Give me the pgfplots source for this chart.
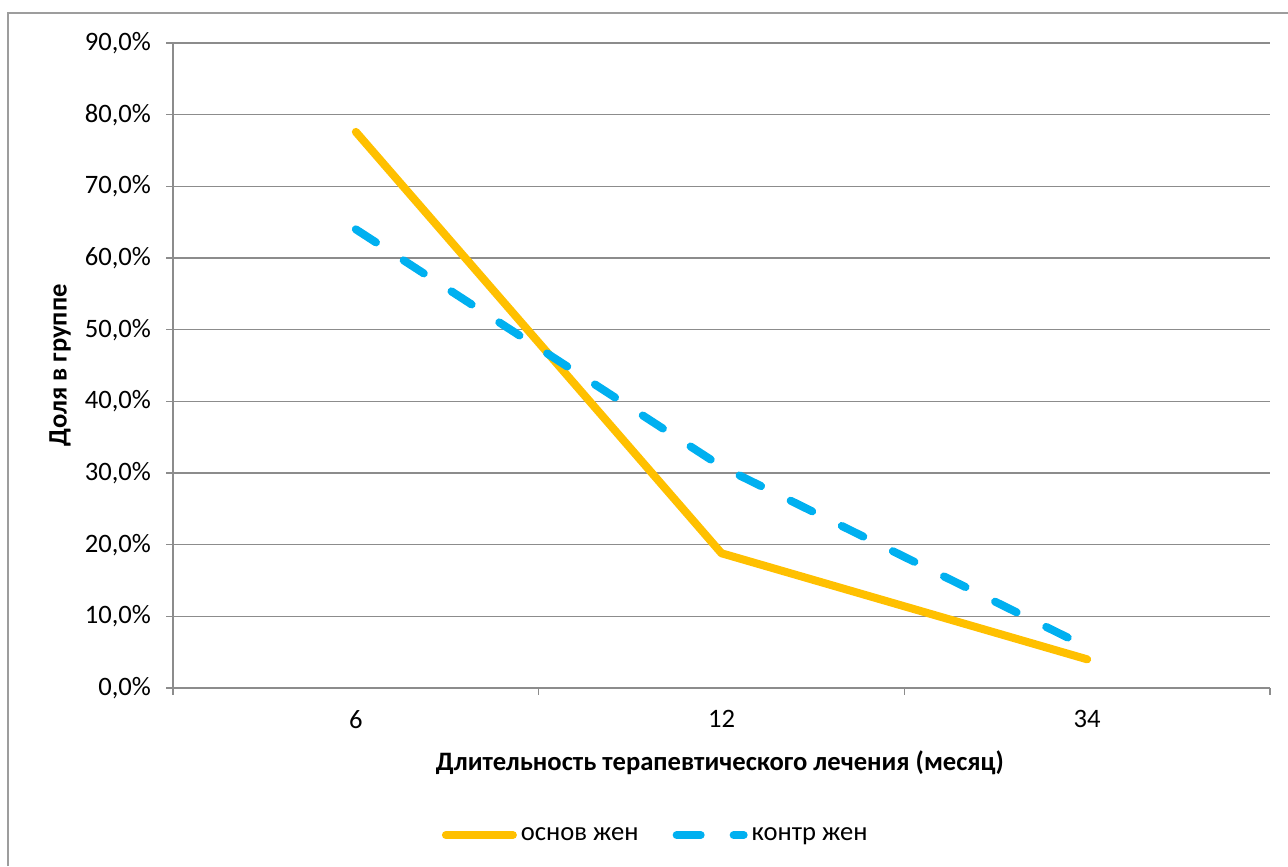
\documentclass[border=0pt]{standalone}
\usepackage{fontspec}
\setmainfont{Carlito}
\usepackage{pgfplots}
\pgfplotsset{compat=1.18}
\definecolor{orng}{HTML}{FFC000}
\definecolor{blu}{HTML}{00B0F0}
\definecolor{gridc}{HTML}{8C8C8C}
\begin{document}
\begin{tikzpicture}
\path[use as bounding box] (0,0) rectangle (644pt,433pt);
\draw[gridc!85, line width=0.7pt] (4pt,0) -- (4pt,426.5pt) -- (644pt,426.5pt);
\begin{axis}[
  at={(86.5pt,89pt)}, anchor=south west,
  scale only axis, width=548.5pt, height=322.5pt,
  xmin=0.5, xmax=3.5, ymin=0, ymax=90,
  axis x line=bottom, axis y line=left,
  axis line style={-, gridc, line width=0.7pt},
  xtick={1,2,3}, xticklabels={6,12,34},
  minor xtick={0.5,1.5,2.5,3.5},
  ytick={0,10,...,90},
  tick align=outside,
  major x tick style={draw=none},
  minor x tick style={gridc, line width=0.7pt},
  minor tick length=3.5pt,
  major y tick style={gridc, line width=0.7pt},
  major tick length=3.5pt,
  ymajorgrids, grid style={gridc, line width=0.7pt},
  /pgf/number format/assume math mode=true,
  yticklabel={\pgfmathprintnumber[fixed,fixed zerofill,precision=1,use comma]{\tick}\%},
  tick label style={font=\fontsize{13.3}{15}\selectfont, black},
  xticklabel style={yshift=-4pt},
  yticklabel style={xshift=-4pt},
  xlabel={Длительность терапевтического лечения (месяц)},
  ylabel={Доля в группе},
  label style={font=\fontsize{13.3}{15}\selectfont\bfseries},
  xlabel style={at={(axis description cs:0.4986,-0.116)}, anchor=center},
  ylabel style={at={(axis description cs:-0.103,0.5)}, anchor=center},
  legend style={at={(0.441,-0.228)}, anchor=center, legend columns=2, draw=none,
    font=\fontsize{13.3}{15}\selectfont, column sep=0pt,
    /tikz/every even column/.append style={column sep=15pt},
    nodes={inner xsep=2pt}},
  legend image code/.code={\draw[#1] (0pt,0pt) -- (33.5pt,0pt);},
  clip=false,
]
\addplot[orng, line width=4pt, line cap=round, line join=round] coordinates {(1,77.6) (2,18.8) (3,4.0)};
\addlegendentry{основ жен}
\addplot[blu, line width=4pt, line cap=round, line join=round, dash pattern=on 12pt off 16.5pt] coordinates {(1,64.0) (2,30.9) (3,5.7)};
\addlegendentry{контр жен}
\end{axis}
\end{tikzpicture}
\end{document}
